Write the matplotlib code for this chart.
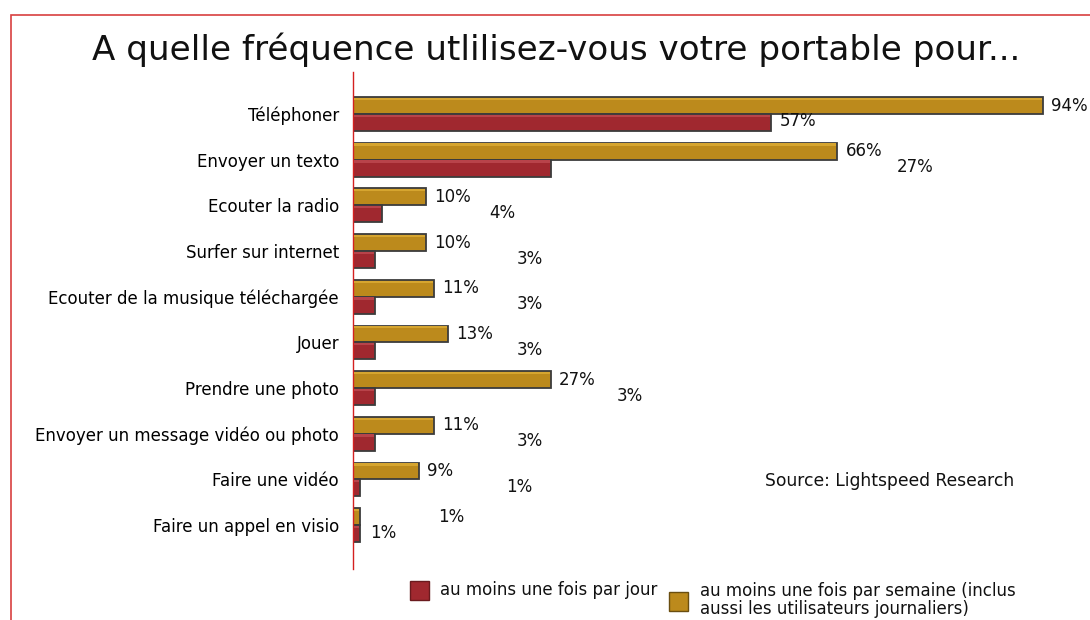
import numpy as np
import matplotlib
matplotlib.use("Agg")
import matplotlib.pyplot as plt
from matplotlib.patches import Rectangle

categories = ["Téléphoner", "Envoyer un texto", "Ecouter la radio", "Surfer sur internet",
              "Ecouter de la musique téléchargée", "Jouer", "Prendre une photo",
              "Envoyer un message vidéo ou photo", "Faire une vidéo", "Faire un appel en visio"]
weekly = [94, 66, 10, 10, 11, 13, 27, 11, 9, 1]
daily = [57, 27, 4, 3, 3, 3, 3, 3, 1, 1]

# label shifts in pixels (the original puts some labels far from their bars)
weekly_shift = [8, 8, 8, 8, 8, 8, 8, 8, 8, 78]
daily_shift = [8, 346, 107, 142, 142, 142, 242, 142, 146, 10]

gold = "#bc8a1c"
gold_hi = "#d6a52f"
red = "#a0282f"
red_hi = "#b8434a"
edge = "#3c3c3c"

plt.rcParams['font.family'] = ['DejaVu Sans']

fig = plt.figure(figsize=(10.9, 6.2), dpi=100)
ax = fig.add_axes([353 / 1090, 1 - 569 / 620, 734 / 1090, 497 / 620])

y = np.arange(len(categories))
h = 0.37
ax.barh(y - h / 2, weekly, height=h, color=gold, edgecolor=edge, linewidth=1.3, zorder=2)
ax.barh(y + h / 2, daily, height=h, color=red, edgecolor=edge, linewidth=1.3, zorder=2)
# light top stripe for the bevelled look
ax.barh(y - h + 0.04, np.array(weekly) - 0.3, height=0.05, left=0.15, color=gold_hi, zorder=3)
ax.barh(y + 0.04, np.array(daily) - 0.3, height=0.05, left=0.15, color=red_hi, zorder=3)

for i in range(len(categories)):
    ax.annotate(f"{weekly[i]}%", (weekly[i], y[i] - h / 2), xytext=(weekly_shift[i], 0),
                textcoords="offset pixels", va="center", ha="left", fontsize=12, color="#111111")
    ax.annotate(f"{daily[i]}%", (daily[i], y[i] + h / 2), xytext=(daily_shift[i], 1),
                textcoords="offset pixels", va="center", ha="left", fontsize=12, color="#111111")

ax.set_xlim(0, 100)
ax.set_ylim(9.96, -0.92)
ax.set_yticks(y)
ax.set_yticklabels(categories, fontsize=12)
ax.tick_params(axis="y", length=0, pad=10)
ax.set_xticks([])
for s in ["top", "right", "bottom"]:
    ax.spines[s].set_visible(False)
ax.spines["left"].set_color("#d42020")
ax.spines["left"].set_linewidth(1)
ax.set_facecolor("none")

fig.text(556 / 1090, 1 - 50 / 620, "A quelle fréquence utlilisez-vous votre portable pour...",
         ha="center", va="center", fontsize=24.6, color="#111111")
fig.text(765 / 1090, 1 - 481 / 620, "Source: Lightspeed Research", ha="left", va="center",
         fontsize=12.3, color="#111111")

# border
fig.patches.append(Rectangle((10.5 / 1090, -0.1), 1.2, 1.1 - 14.5 / 620, transform=fig.transFigure,
                             fill=False, edgecolor="#d84040", linewidth=1.2))

# legend drawn by hand
fig.patches.append(Rectangle((410 / 1090, 1 - 600 / 620), 19 / 1090, 19 / 620, transform=fig.transFigure,
                             facecolor=red, edgecolor="#6a1a1e", linewidth=1))
fig.text(440 / 1090, 1 - 590 / 620, "au moins une fois par jour", ha="left", va="center",
         fontsize=12, color="#111111")
fig.patches.append(Rectangle((669 / 1090, 1 - 611 / 620), 19 / 1090, 19 / 620, transform=fig.transFigure,
                             facecolor=gold, edgecolor="#6a4e10", linewidth=1))
fig.text(700 / 1090, 1 - 600 / 620, "au moins une fois par semaine (inclus\naussi les utilisateurs journaliers)",
         ha="left", va="center", fontsize=12, color="#111111", linespacing=1.0)

fig.savefig("out.png", dpi=100)
